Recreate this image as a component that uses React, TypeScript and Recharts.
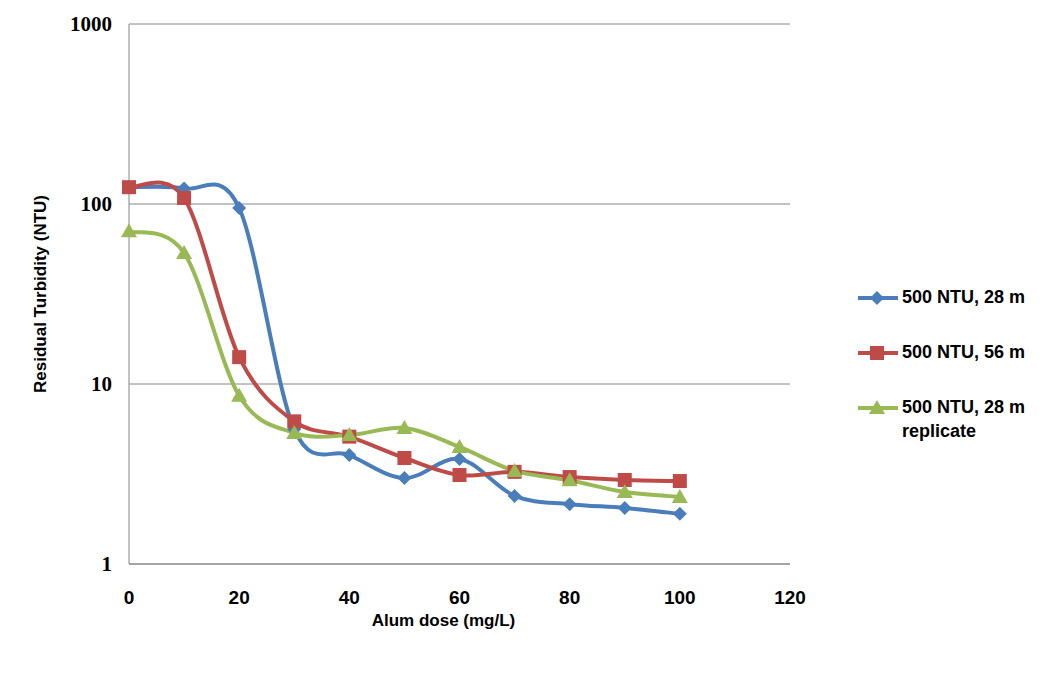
import React from "react";
import {
  LineChart, Line, XAxis, YAxis, CartesianGrid, Legend, Label,
} from "recharts";

const doses = [0, 10, 20, 30, 40, 50, 60, 70, 80, 90, 100];
const ntu28 = [124, 122, 95, 5.6, 4.03, 3.0, 3.83, 2.39, 2.15, 2.05, 1.9];
const ntu56 = [124, 108, 14.1, 6.2, 5.1, 3.88, 3.12, 3.25, 3.04, 2.93, 2.89];
const ntu28rep = [70.5, 53.5, 8.6, 5.35, 5.2, 5.7, 4.47, 3.29, 2.92, 2.51, 2.36];

const xTicks = [0, 20, 40, 60, 80, 100, 120];
const yTicks = [1, 10, 100, 1000];

const seriesNames = ["500 NTU, 28 m", "500 NTU, 56 m", "500 NTU, 28 m replicate"];
const COLORS = ["#4a7ebb", "#be4b48", "#98b954"];

const data = doses.map((d, i) => ({
  dose: d,
  a: ntu28[i],
  b: ntu56[i],
  c: ntu28rep[i],
}));

// excel-ish smoothed line (catmull-rom style bezier through points)
function excelCurve(context: any) {
  let pts: number[][] = [];
  return {
    areaStart() {},
    areaEnd() {},
    lineStart() { pts = []; },
    point(x: number, y: number) { pts.push([+x, +y]); },
    lineEnd() {
      if (!pts.length) return;
      context.moveTo(pts[0][0], pts[0][1]);
      for (let i = 0; i < pts.length - 1; i++) {
        const p0 = pts[Math.max(i - 1, 0)];
        const p1 = pts[i];
        const p2 = pts[i + 1];
        const p3 = pts[Math.min(i + 2, pts.length - 1)];
        context.bezierCurveTo(
          p1[0] + (p2[0] - p0[0]) / 6, p1[1] + (p2[1] - p0[1]) / 6,
          p2[0] - (p3[0] - p1[0]) / 6, p2[1] - (p3[1] - p1[1]) / 6,
          p2[0], p2[1]
        );
      }
    },
  };
}

const Diamond = (p: any) => {
  const { cx, cy, key } = p;
  const r = 7;
  return <path key={key} d={`M${cx},${cy - r}L${cx + r},${cy}L${cx},${cy + r}L${cx - r},${cy}Z`} fill={COLORS[0]} />;
};
const Square = (p: any) => {
  const { cx, cy, key } = p;
  return <rect key={key} x={cx - 7} y={cy - 7} width={14} height={14} fill={COLORS[1]} />;
};
const Triangle = (p: any) => {
  const { cx, cy, key } = p;
  return <path key={key} d={`M${cx},${cy - 8}L${cx + 8},${cy + 6}L${cx - 8},${cy + 6}Z`} fill={COLORS[2]} />;
};

const markerIcons = [
  <path d="M21,3L28,10L21,17L14,10Z" fill={COLORS[0]} />,
  <rect x={14} y={3} width={14} height={14} fill={COLORS[1]} />,
  <path d="M21,2L29,16L13,16Z" fill={COLORS[2]} />,
];

const sansFont = "'Liberation Sans', Arial, sans-serif";

function LegendBox() {
  return (
    <div style={{ fontFamily: sansFont, fontWeight: "bold", fontSize: 18, color: "#000" }}>
      {seriesNames.map((n, i) => (
        <div key={n} style={{ display: "flex", alignItems: "flex-start", height: 55 }}>
          <svg width={46} height={20} style={{ flex: "none", marginTop: 1 }}>
            <line x1={2} y1={10} x2={42} y2={10} stroke={COLORS[i]} strokeWidth={4} />
            {markerIcons[i]}
          </svg>
          <span style={{ width: 140, lineHeight: "24px", marginTop: -2 }}>{n}</span>
        </div>
      ))}
    </div>
  );
}

export default function App() {
  return (
    <div style={{ position: "absolute", left: 0, top: 0, width: 1052, height: 677, background: "#fff" }}>
      <LineChart width={1052} height={677} data={data} margin={{ top: 24, right: 66, bottom: 0, left: 0 }}>
        <CartesianGrid horizontal vertical={false} stroke="#868686" strokeWidth={1} />
        <XAxis
          dataKey="dose" type="number" domain={[0, 120]} ticks={xTicks}
          height={113} tickSize={0} tickMargin={27} axisLine={{ stroke: "#868686" }} tickLine={false}
          tick={{ fontFamily: sansFont, fontWeight: "bold", fontSize: 19, fill: "#000" }}
        >
          <Label
            content={(props: any) => {
              const vb = props.viewBox;
              return (
                <text x={vb.x + vb.width / 2 - 16} y={vb.y + 62} textAnchor="middle"
                  style={{ fontFamily: sansFont, fontWeight: "bold", fontSize: 17 }} fill="#000">
                  Alum dose (mg/L)
                </text>
              );
            }}
          />
        </XAxis>
        <YAxis
          scale="log" type="number" domain={[1, 1000]} ticks={yTicks} allowDataOverflow
          width={129} tickSize={0} tickMargin={17} axisLine={{ stroke: "#868686" }} tickLine={false}
          tick={{ fontFamily: "'Liberation Serif', serif", fontWeight: "bold", fontSize: 21, fill: "#000" }}
        >
          <Label
            content={(props: any) => {
              const vb = props.viewBox;
              const cx = vb.x + 42;
              const cy = vb.y + vb.height / 2;
              return (
                <text x={cx} y={cy} textAnchor="middle" dominantBaseline="middle"
                  transform={`rotate(-90, ${cx}, ${cy})`}
                  style={{ fontFamily: sansFont, fontWeight: "bold", fontSize: 17 }} fill="#000">
                  Residual Turbidity (NTU)
                </text>
              );
            }}
          />
        </YAxis>
        <Legend
          layout="vertical" align="right" verticalAlign="top"
          wrapperStyle={{ left: 856, top: 287, width: 196 }}
          content={() => <LegendBox />}
        />
        <Line dataKey="a" name={seriesNames[0]} type={excelCurve as any} stroke={COLORS[0]} strokeWidth={4}
          dot={Diamond} activeDot={false} isAnimationActive={false} />
        <Line dataKey="b" name={seriesNames[1]} type={excelCurve as any} stroke={COLORS[1]} strokeWidth={4}
          dot={Square} activeDot={false} isAnimationActive={false} />
        <Line dataKey="c" name={seriesNames[2]} type={excelCurve as any} stroke={COLORS[2]} strokeWidth={4}
          dot={Triangle} activeDot={false} isAnimationActive={false} />
      </LineChart>
    </div>
  );
}
